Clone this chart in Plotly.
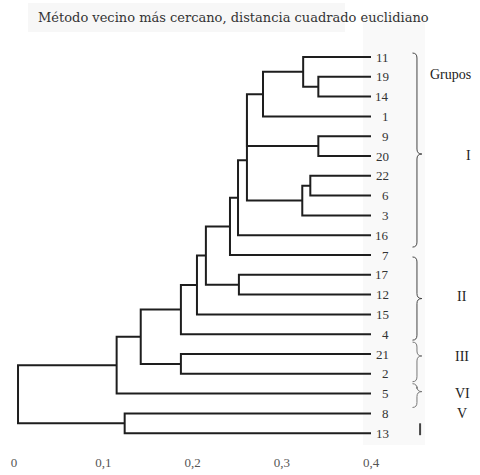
import plotly.graph_objects as go

# ---------------- data ----------------
title_text = "Método vecino más cercano, distancia cuadrado euclidiano"

leaf_labels = ["11", "19", "14", "1", "9", "20", "22", "6", "3", "16",
               "7", "17", "12", "15", "4", "21", "2", "5", "8", "13"]
leaf_level = 0.4

# merges (agglomeration schedule): children refer to leaf labels or "mN"
merge_left = ["19", "11", "m1", "9", "22", "m4", "m2", "m6", "m7", "m8",
              "17", "m9", "m11", "m12", "21", "m13", "m15", "8", "m16"]
merge_right = ["14", "m0", "1", "20", "6", "3", "m3", "m5", "16", "7",
               "12", "m10", "15", "4", "2", "m14", "5", "13", "m17"]
merge_level = [0.341, 0.324, 0.279, 0.341, 0.332, 0.323, 0.261, 0.261, 0.251, 0.242,
               0.252, 0.215, 0.205, 0.187, 0.187, 0.142, 0.115, 0.124, 0.0045]

tick_vals = [0, 0.1, 0.2, 0.3, 0.4]
tick_text = ["0", "0,1", "0,2", "0,3", "0,4"]

group_names = ["I", "II", "III", "VI", "V"]
group_start = [-0.2, 10.1, 14.4, 16.5, 18.5]
group_end = [9.6, 14.3, 16.4, 17.7, 19.1]
group_tip = [4.9, 12.2, 15.1, 16.9, None]
group_label_y = [4.95, 12.1, 15.15, 17.0, 18.0]
groups_header = "Grupos"

# ---------------- tree geometry ----------------
pos = {}
for i, lab in enumerate(leaf_labels):
    pos[lab] = (leaf_level, i)

xs, ys = [], []
for k, (a, b, h) in enumerate(zip(merge_left, merge_right, merge_level)):
    xa, ya = pos[a]
    xb, yb = pos[b]
    xs += [xa, h, h, xb, None]
    ys += [ya, ya, yb, yb, None]
    pos["m%d" % k] = (h, (ya + yb) / 2)

fig = go.Figure()
fig.add_trace(go.Scatter(x=xs, y=ys, mode="lines",
                         line=dict(color="#1e1e1e", width=2),
                         hoverinfo="skip", showlegend=False))

# leaf labels
for i, lab in enumerate(leaf_labels):
    fig.add_annotation(x=0.4225, y=i, text=lab, showarrow=False, xanchor="right",
                       yanchor="middle", xref="x", yref="y",
                       font=dict(family="Liberation Serif", size=13, color="#333"))

# braces
shapes = []
bx, bl, bt = 0.4515, 0.4465, 0.4570
for name, s, e, t in zip(group_names, group_start, group_end, group_tip):
    col = "#444" if name in ("I", "II") else "#777"
    if t is None:
        shapes.append(dict(type="line", xref="x", yref="y", x0=0.4550, x1=0.4550,
                           y0=s, y1=e, line=dict(color="#444", width=2)))
        continue
    c = 0.25
    path = (f"M {bl},{s} Q {bx},{s} {bx},{s + c} L {bx},{t - c} "
            f"Q {bx},{t} {bt},{t} Q {bx},{t} {bx},{t + c} "
            f"L {bx},{e - c} Q {bx},{e} {bl},{e}")
    shapes.append(dict(type="path", xref="x", yref="y", path=path,
                       line=dict(color=col, width=1)))

# faint scan backgrounds
shapes.insert(0, dict(type="rect", xref="paper", yref="paper", layer="below",
                      x0=28 / 480, x1=345 / 480, y0=1 - 32 / 445, y1=1 - 3 / 445,
                      fillcolor="#f7f7f7", line=dict(width=0)))
shapes.insert(0, dict(type="rect", xref="paper", yref="paper", layer="below",
                      x0=363 / 480, x1=425 / 480, y0=0.0, y1=1 - 13 / 445,
                      fillcolor="#f9f9f9", line=dict(width=0)))

fig.add_annotation(x=450 / 480, y=0.9, text=groups_header, showarrow=False,
                   xref="paper", yref="y", xanchor="center", yanchor="middle",
                   font=dict(family="Liberation Serif", size=14, color="#222"))
for name, ly in zip(group_names, group_label_y):
    xc = 468 if name == "I" else 462
    fig.add_annotation(x=xc / 480, y=ly, text=name, showarrow=False,
                       xref="paper", yref="y", xanchor="center", yanchor="middle",
                       font=dict(family="Liberation Serif", size=14, color="#222"))

fig.add_annotation(x=233 / 480, y=1 - 17 / 445, text=title_text, showarrow=False,
                   xref="paper", yref="paper", xanchor="center", yanchor="middle",
                   font=dict(family="DejaVu Serif", size=13, color="#333"))

fig.update_layout(
    width=480, height=475,
    margin=dict(l=0, r=0, t=0, b=30),
    paper_bgcolor="white", plot_bgcolor="white",
    shapes=shapes,
    xaxis=dict(range=[-14 / 892.5, 466 / 892.5], showgrid=False, zeroline=False,
               showline=False, ticks="", tickvals=tick_vals, ticktext=tick_text,
               ticklabelstandoff=8,
               tickfont=dict(family="Liberation Serif", size=13, color="#555"),
               fixedrange=True),
    yaxis=dict(range=[(445 - 57) / 19.8, -57 / 19.8], showgrid=False, zeroline=False,
               showline=False, showticklabels=False, fixedrange=True),
    showlegend=False,
)

fig.write_html("out.html")
